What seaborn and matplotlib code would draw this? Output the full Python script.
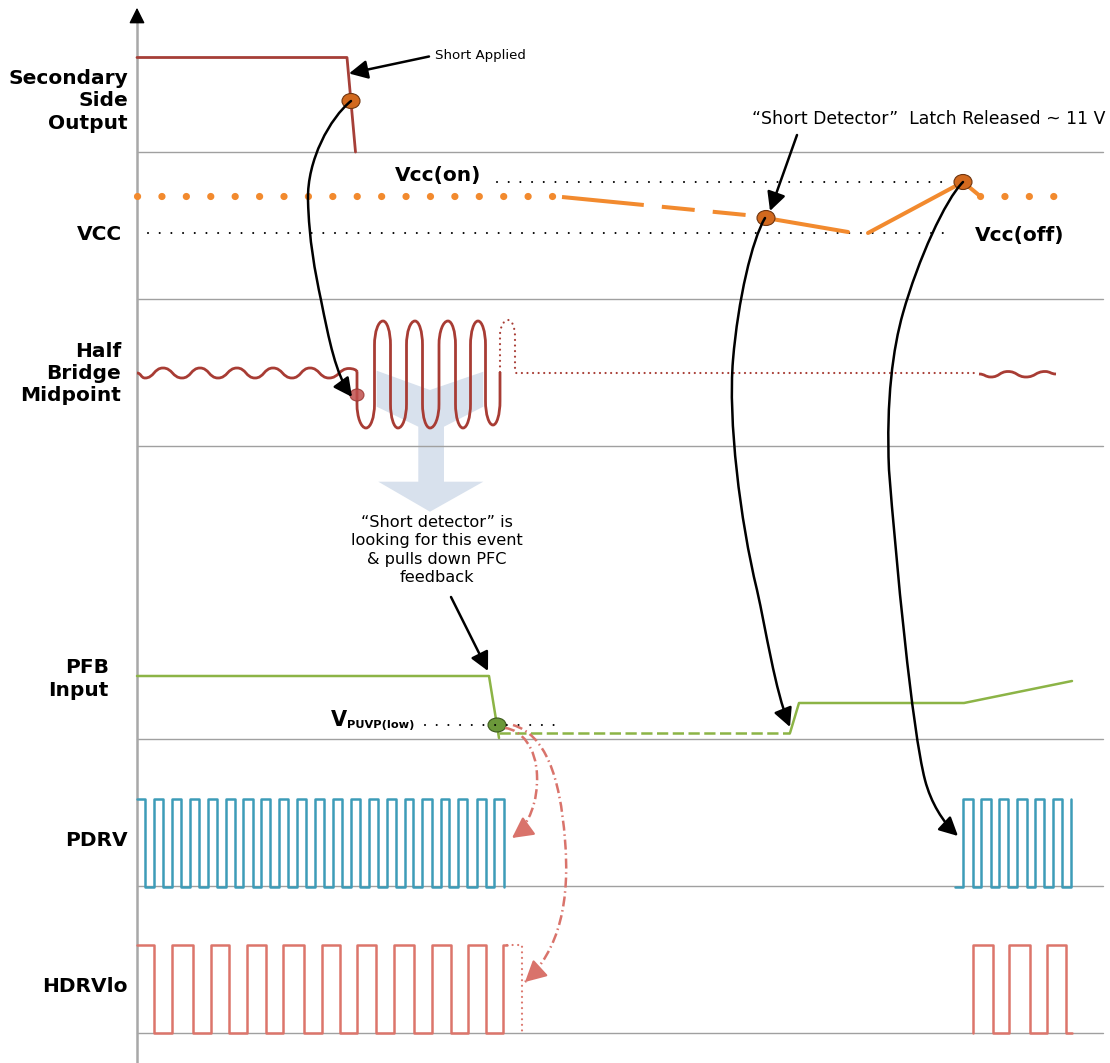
import matplotlib
matplotlib.use("Agg")
import matplotlib.pyplot as plt
import seaborn as sns
from matplotlib.path import Path
from matplotlib.patches import PathPatch, FancyArrowPatch, Ellipse, Polygon

# ------------------------------------------------------------------ data
# diagram time axis and signal levels are expressed in drawing units
lane_names = ["Secondary\nSide\nOutput", "VCC", "Half\nBridge\nMidpoint",
              "PFB\nInput", "PDRV", "HDRVlo"]
lane_label_x = [128, 122, 121, 109, 128, 128]
lane_label_y = [101, 234, 373.5, 679, 841, 987]
lane_bottoms = [152, 299, 446, 739, 886, 1033]

# Secondary side output
sec_t = [137, 347, 355.5]
sec_v = [57.5, 57.5, 152]

# VCC
vcc_dot_t = [137, 553]
vcc_dot2_t = [980, 1055]
vcc_run_level = 196
vcc_dash_t = [562, 746]
vcc_dash_v = [197, 215]
vcc_fall_t = [766, 848]
vcc_fall_v = [218, 232]
vcc_rise_t = [868, 963, 980]
vcc_rise_v = [233, 182, 196]
vcc_on_t, vcc_on_level = [497, 950], 182
vcc_off_t, vcc_off_level = [148, 950], 233

# Half bridge midpoint
hb_small_t = [137, 145, 163, 182, 200, 218, 237, 255, 273, 292, 310, 329, 349, 357]
hb_small_v = [373, 378, 368, 378, 368, 378, 368, 378, 368, 378, 368, 378, 368.5, 372]
hb_big_t = [357, 366, 383, 398, 415, 430, 448, 463, 478, 493, 500]
hb_big_v = [372, 428, 321, 428, 321, 428, 321, 428, 321, 425, 372]
hb_dot_t = [500, 508, 515]
hb_dot_v = [372, 320, 368]
hb_flat_t, hb_flat_level = [520, 978], 373
hb_end_t = [979, 991, 1008, 1026, 1045, 1056]
hb_end_v = [374, 377, 371.5, 377, 371.5, 374]

# PFB input
pfb_t = [137, 489, 499]
pfb_v = [676, 676, 738]
pfb_dash_t, pfb_dash_level = [499, 790], 733
pfb_rec_t = [790, 799, 964, 1072]
pfb_rec_v = [733, 703, 703, 681]
vpuvp_t, vpuvp_level = [425, 556], 725

# PDRV (toggle times)
pdrv_hi, pdrv_lo = 799, 887
pdrv1_start = 136.7
pdrv1_toggles = [145, 154, 162.7, 171.7, 180.7, 190, 199, 207.7, 216.7, 226, 235,
                 243.3, 252.7, 261.3, 270, 279.3, 288.3, 296.7, 306, 315, 324,
                 333.3, 342.3, 351, 360, 368.7, 377.7, 386.7, 395.7, 405, 413.3,
                 422.3, 431.7, 440.7, 449.3, 458.3, 467.3, 476.7, 485.7, 494.3, 504.3]
pdrv2_start = 955
pdrv2_toggles = [963.3, 973.3, 981, 990.7, 999.3, 1008.3, 1017.3, 1026.7,
                 1035, 1044, 1053.3, 1061.7, 1070.7]

# HDRVlo (toggle times)
hdrv_hi, hdrv_lo = 945, 1033
hdrv1_start = 136.7
hdrv1_toggles = [154.3, 172.3, 192.7, 210.7, 229, 246.7, 265.7, 283.3, 304, 321.7,
                 340, 357.3, 376, 394, 414.3, 431.7, 450.7, 467.7, 485.7, 503.3]
hdrv1_end = 507
hdrv1_tail_t = [507, 521.7, 521.7]
hdrv1_tail_v = [945, 945, 1033]
hdrv2_start = 973.3
hdrv2_toggles = [973.3, 992.7, 1009, 1030, 1047.3, 1065.7]
hdrv2_end = 1071.7

# markers
dot_orange = [(351, 101), (766, 218), (963, 182)]
dot_red = (357, 395)
dot_green = (497, 725)

# big translucent arrow outline
chev_x = [376.7, 430, 483.3, 483.3, 444, 444, 483.3, 430, 378.3, 418.3, 418.3, 376.7]
chev_y = [370.7, 390, 371.7, 406.7, 426.7, 481.7, 481.7, 511.7, 481.7, 481.7, 426.7, 406.7]

# ------------------------------------------------------------------ colours
C_SEC = "#a63f38"
C_HB = "#a83c34"
C_VCC = "#f28a2e"
C_DOT = "#d2691e"
C_PFB = "#8cb446"
C_GDOT = "#6b983a"
C_PDRV = "#3d9cb8"
C_HDRV = "#dc756b"
C_RED = "#d9736b"
C_CHEV = "#d8e1ed"
C_SEP = "#a0a0a0"

sns.set_theme(style="white")
plt.rcParams["font.family"] = ["DejaVu Sans"]
plt.rcParams["text.color"] = "black"

fig = plt.figure(figsize=(11.1, 10.63), dpi=100)
ax = fig.add_axes([0, 0, 1, 1])


def square(start, start_level, toggles, lo, hi, end=None):
    xs, ys = [start], [start_level]
    cur = start_level
    for t in toggles:
        nxt = lo if cur == hi else hi
        xs += [t, t]
        ys += [cur, nxt]
        cur = nxt
    if end is not None:
        xs.append(end)
        ys.append(cur)
    return xs, ys


def wave_path(ts, vs, k=0.5, last_vertical=False):
    """smooth wave with horizontal tangents at each extremum"""
    verts = [(ts[0], vs[0])]
    codes = [Path.MOVETO]
    n = len(ts)
    for i in range(1, n):
        x0, y0, x1, y1 = ts[i - 1], vs[i - 1], ts[i], vs[i]
        dx, dy = x1 - x0, y1 - y0
        c1 = (x0 + k * dx, y0)
        c2 = (x1 - k * dx, y1)
        if last_vertical and i == n - 1:
            c2 = (x1, y1 - 0.6 * dy)
        verts += [c1, c2, (x1, y1)]
        codes += [Path.CURVE4] * 3
    return verts, codes


def loop_path(ts, vs, ry=12.0, first_vertical=False, last_vertical=False):
    """oscillation with near-straight sides and rounded caps"""
    K = 0.552
    verts = [(ts[0], vs[0])]
    codes = [Path.MOVETO]
    n = len(ts)
    for i in range(1, n):
        x0, y0, x1, y1 = ts[i - 1], vs[i - 1], ts[i], vs[i]
        s = 1.0 if y1 > y0 else -1.0
        mx = (x0 + x1) / 2
        if first_vertical and i == 1:
            mx = x0
        if last_vertical and i == n - 1:
            mx = x1
        if not (first_vertical and i == 1):
            verts += [(x0 + K * (mx - x0), y0), (mx, y0 + s * ry * (1 - K)), (mx, y0 + s * ry)]
            codes += [Path.CURVE4] * 3
        if last_vertical and i == n - 1:
            verts.append((mx, y1))
            codes.append(Path.LINETO)
        else:
            verts.append((mx, y1 - s * ry))
            codes.append(Path.LINETO)
            verts += [(mx, y1 - s * ry * (1 - K)), (x1 - K * (x1 - mx), y1), (x1, y1)]
            codes += [Path.CURVE4] * 3
    return verts, codes


def line(xs, ys, color, lw=2.0, z=3):
    sns.lineplot(x=xs, y=ys, sort=False, estimator=None, color=color,
                 linewidth=lw, ax=ax, zorder=z, legend=False)


# ------------------------------------------------------------------ frame
for yb in lane_bottoms:
    ax.plot([137, 1103], [yb, yb], color=C_SEP, lw=1.0, zorder=1)
ax.plot([137, 137], [1063, 14], color="#a8a8a8", lw=1.8, zorder=2)
ax.add_patch(FancyArrowPatch((137, 18), (137, 5), arrowstyle="-|>,head_length=0.8,head_width=0.4",
                             mutation_scale=12, color="black", lw=1, zorder=3))

for name, lx, ly in zip(lane_names, lane_label_x, lane_label_y):
    ax.text(lx, ly, name, ha="right", va="center", multialignment="right",
            fontsize=14.5, fontweight="bold", linespacing=1.22, color="black")

# translucent arrow
ax.add_patch(Polygon(list(zip(chev_x, chev_y)), closed=True, facecolor=C_CHEV,
                     edgecolor="none", zorder=0.5))

# ------------------------------------------------------------------ secondary
line(sec_t, sec_v, C_SEC, 2.0)

# ------------------------------------------------------------------ VCC
ax.plot(vcc_dot_t, [vcc_run_level] * 2, color=C_VCC, lw=5.2,
        linestyle=(0, (0.01, 3.37)), dash_capstyle="round", zorder=3)
ax.plot(vcc_dot2_t, [vcc_run_level] * 2, color=C_VCC, lw=5.2,
        linestyle=(0, (0.01, 3.37)), dash_capstyle="round", zorder=3)
ax.plot(vcc_dash_t, vcc_dash_v, color=C_VCC, lw=2.9,
        linestyle=(0, (20.4, 4.5, 8.2, 4.5, 8.2, 4.5)), zorder=3)
line(vcc_fall_t, vcc_fall_v, C_VCC, 2.9)
line(vcc_rise_t, vcc_rise_v, C_VCC, 2.9)
ax.plot(vcc_on_t, [vcc_on_level] * 2, color="black", lw=1.5,
        linestyle=(0, (0.01, 5.6)), dash_capstyle="round", zorder=2)
ax.plot(vcc_off_t, [vcc_off_level] * 2, color="black", lw=1.5,
        linestyle=(0, (0.01, 5.6)), dash_capstyle="round", zorder=2)

ax.text(395, 176, "Vcc(on)", fontsize=14.5, fontweight="bold", ha="left", va="center")
ax.text(975, 236, "Vcc(off)", fontsize=14.5, fontweight="bold", ha="left", va="center")

# ------------------------------------------------------------------ half bridge
v, c = wave_path(hb_small_t, hb_small_v, last_vertical=True)
ax.add_patch(PathPatch(Path(v, c), fill=False, edgecolor=C_HB, lw=2.0, zorder=3))
v, c = loop_path(hb_big_t, hb_big_v, ry=24, first_vertical=True, last_vertical=True)
ax.add_patch(PathPatch(Path(v, c), fill=False, edgecolor=C_HB, lw=2.0, zorder=3))
v, c = loop_path(hb_dot_t, hb_dot_v, ry=16, first_vertical=True, last_vertical=True)
v += [(hb_dot_t[-1] + 1, hb_flat_level), (hb_flat_t[0], hb_flat_level), (hb_flat_t[1], hb_flat_level)]
c += [Path.LINETO, Path.LINETO, Path.LINETO]
ax.add_patch(PathPatch(Path(v, c), fill=False, edgecolor=C_HB, lw=1.6,
                       linestyle=(0, (0.01, 2.5)), capstyle="round", zorder=3))
v, c = wave_path(hb_end_t, hb_end_v)
ax.add_patch(PathPatch(Path(v, c), fill=False, edgecolor=C_HB, lw=2.0, zorder=3))

# ------------------------------------------------------------------ PFB
line(pfb_t, pfb_v, C_PFB, 1.8)
ax.plot(pfb_dash_t, [pfb_dash_level] * 2, color=C_PFB, lw=1.8,
        linestyle=(0, (4.5, 1.8)), zorder=3)
line(pfb_rec_t, pfb_rec_v, C_PFB, 1.8)
ax.plot(vpuvp_t, [vpuvp_level] * 2, color="black", lw=1.5,
        linestyle=(0, (0.01, 5.6)), dash_capstyle="round", zorder=6)
ax.text(331, 720, "V", fontsize=15, fontweight="bold", ha="left", va="center")
ax.text(347, 725.5, "PUVP(low)", fontsize=8.2, fontweight="bold", ha="left", va="center")

# ------------------------------------------------------------------ PDRV / HDRV
xs, ys = square(pdrv1_start, pdrv_hi, pdrv1_toggles, pdrv_lo, pdrv_hi)
line(xs, ys, C_PDRV, 1.8)
xs, ys = square(pdrv2_start, pdrv_lo, pdrv2_toggles, pdrv_lo, pdrv_hi)
line(xs, ys, C_PDRV, 1.8)
xs, ys = square(hdrv1_start, hdrv_hi, hdrv1_toggles, hdrv_lo, hdrv_hi, hdrv1_end)
line(xs, ys, C_HDRV, 1.8)
ax.plot(hdrv1_tail_t, hdrv1_tail_v, color=C_HDRV, lw=1.6,
        linestyle=(0, (0.01, 2.5)), dash_capstyle="round", zorder=3)
xs, ys = square(hdrv2_start, hdrv_lo, hdrv2_toggles, hdrv_lo, hdrv_hi, hdrv2_end)
line(xs, ys, C_HDRV, 1.8)

# ------------------------------------------------------------------ markers
for (x, y) in dot_orange:
    ax.add_patch(Ellipse((x, y), 18, 15, facecolor=C_DOT, edgecolor="#6e3510",
                         lw=0.8, zorder=7))
ax.add_patch(Ellipse(dot_red, 14, 12, facecolor="#c0504d", edgecolor="#9a3530",
                     lw=0.8, alpha=0.85, zorder=7))
ax.add_patch(Ellipse(dot_green, 18, 14, facecolor=C_GDOT, edgecolor="#3c5a1c",
                     lw=0.8, zorder=5))

# ------------------------------------------------------------------ arrows
AST = "-|>,head_length=0.75,head_width=0.38"


def bez(pts):
    verts = [pts[0]]
    codes = [Path.MOVETO]
    for p in pts[1:]:
        verts.append(p)
        codes.append(Path.CURVE4)
    return Path(verts, codes)


def curve_arrow(pts, color="black", lw=1.8, z=8):
    ax.add_patch(FancyArrowPatch(path=bez(pts), arrowstyle=AST,
                                 mutation_scale=15, color=color, lw=lw, zorder=z))


def dashdot_arrow(pts, color, lw=1.8, z=8):
    ax.add_patch(PathPatch(bez(pts[:-3] + [pts[-3], pts[-2], pts[-1]]), fill=False,
                           edgecolor=color, lw=lw,
                           linestyle=(0, (4, 1.5, 0.6, 1.5)), zorder=z))
    (cx, cy), (ex, ey) = pts[-2], pts[-1]
    d = ((ex - cx) ** 2 + (ey - cy) ** 2) ** 0.5
    tail = (ex - 14 * (ex - cx) / d, ey - 14 * (ey - cy) / d)
    ax.add_patch(FancyArrowPatch(tail, (ex, ey), arrowstyle="-|>,head_length=0.8,head_width=0.42",
                                 mutation_scale=16, color=color, lw=1.6,
                                 shrinkA=0, shrinkB=0, zorder=z))


curve_arrow([(351, 101), (330, 118), (307, 160), (308, 200),
             (309, 240), (315, 272), (321, 300),
             (329, 340), (336, 375), (352, 397)])
curve_arrow([(765, 218), (752, 240), (738, 300), (733, 360),
             (728, 420), (740, 520), (757, 590),
             (766, 630), (775, 690), (790, 727)])
curve_arrow([(963, 182), (945, 200), (918, 260), (903, 313),
             (893, 348), (886, 400), (889, 470),
             (896, 560), (912, 730), (925, 780),
             (931, 803), (943, 822), (958, 836)])
dashdot_arrow([(505, 728), (522, 730), (536, 748), (537, 775),
               (538, 800), (530, 825), (512, 838)], C_RED)
dashdot_arrow([(513, 725), (545, 735), (560, 775), (565, 840),
               (570, 900), (560, 950), (525, 982)], C_RED)

for tail, head in [((429, 56.5), (349, 73.5)), ((797, 135), (770, 211)),
                   ((451, 597), (488, 671))]:
    ax.add_patch(FancyArrowPatch(tail, head, arrowstyle=AST, mutation_scale=15,
                                 color="black", lw=1.8, shrinkA=0, shrinkB=0, zorder=8))

# ------------------------------------------------------------------ annotations
ax.text(435, 55, "Short Applied", fontsize=9.6, ha="left", va="center", color="black")
ax.text(752, 119, "\u201cShort Detector\u201d  Latch Released ~ 11 V", fontsize=12.4,
        ha="left", va="center", color="black")
ax.text(437, 550, "\u201cShort detector\u201d is\nlooking for this event\n& pulls down PFC\nfeedback",
        fontsize=11.6, ha="center", va="center", linespacing=1.3, color="black")

ax.set_xlim(0, 1110)
ax.set_ylim(1063, 0)
ax.axis("off")
fig.savefig("out.png", dpi=100)
